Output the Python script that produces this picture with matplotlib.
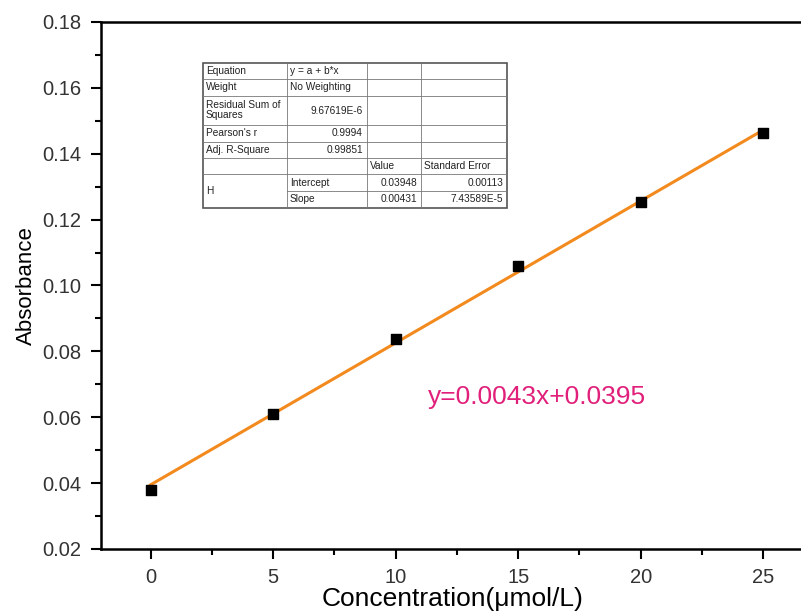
import numpy as np
import matplotlib.pyplot as plt
from matplotlib.ticker import MultipleLocator, FormatStrFormatter

plt.rcParams['font.family'] = ['Liberation Sans', 'DejaVu Sans']

# standard curve data
conc = [0, 5, 10, 15, 20, 25]
absorb = [0.0379, 0.0610, 0.0838, 0.1060, 0.1252, 0.1462]

# linear fit results
intercept = 0.03948
slope = 0.00431

fit_rows = [
    ["Equation", "y = a + b*x", "", ""],
    ["Weight", "No Weighting", "", ""],
    ["Residual Sum of\nSquares", "9.67619E-6", "", ""],
    ["Pearson's r", "0.9994", "", ""],
    ["Adj. R-Square", "0.99851", "", ""],
    ["", "", "Value", "Standard Error"],
    ["H", "Intercept", "0.03948", "0.00113"],
    ["", "Slope", "0.00431", "7.43589E-5"],
]

fig = plt.figure(figsize=(8.01, 6.14), dpi=100)
ax = fig.add_axes([101 / 801, 1 - 549 / 614, 704 / 801, 527 / 614])

xfit = np.array([conc[0], conc[-1]])
ax.plot(xfit, intercept + slope * xfit, color='#F28A1E', lw=2.2, zorder=2)
ax.scatter(conc, absorb, marker='s', s=55, color='black', zorder=3)

ax.set_xlim(-2.02, 26.7)
ax.set_ylim(0.02, 0.18)
ax.xaxis.set_major_locator(MultipleLocator(5))
ax.xaxis.set_minor_locator(MultipleLocator(2.5))
ax.yaxis.set_major_locator(MultipleLocator(0.02))
ax.yaxis.set_minor_locator(MultipleLocator(0.01))
ax.yaxis.set_major_formatter(FormatStrFormatter('%.2f'))
ax.tick_params(which='major', direction='out', length=7, width=1.5,
               labelsize=14.5, labelcolor='#333333', pad=7)
ax.tick_params(which='minor', direction='out', length=4, width=1.5)
for s in ax.spines.values():
    s.set_linewidth(1.8)

ax.set_xlabel('Concentration(μmol/L)', fontsize=19, labelpad=0)
ax.set_ylabel('Absorbance', fontsize=16, labelpad=4)

ax.text(11.3, 0.0661, 'y=0.0043x+0.0395', color='#E0207A', fontsize=19, va='center')

# fit report table, drawn in pixel-based figure coordinates
col_x = [203, 287, 367, 421, 507]
row_y = [63, 79, 96, 125, 142, 158, 174, 191, 208]
W, H = 801, 614

def fx(px):
    return px / W

def fy(py):
    return 1 - py / H

lc = '#777777'
fig.patches.append(plt.Rectangle((fx(col_x[0]), fy(row_y[-1])),
                                 fx(col_x[-1]) - fx(col_x[0]), fy(row_y[0]) - fy(row_y[-1]),
                                 transform=fig.transFigure, facecolor='white',
                                 edgecolor='#555555', lw=1.2, zorder=5))
for i, yy in enumerate(row_y[1:-1], start=1):
    x0 = col_x[1] if i == 7 else col_x[0]
    fig.add_artist(plt.Line2D([fx(x0), fx(col_x[-1])], [fy(yy), fy(yy)],
                              transform=fig.transFigure, color=lc, lw=0.6, zorder=6))
for xx in col_x[1:-1]:
    fig.add_artist(plt.Line2D([fx(xx), fx(xx)], [fy(row_y[0]), fy(row_y[-1])],
                              transform=fig.transFigure, color=lc, lw=0.6, zorder=6))

fs = 7.3
for r, row in enumerate(fit_rows):
    ymid = (row_y[r] + row_y[r + 1]) / 2
    for c, val in enumerate(row):
        if not val:
            continue
        if r == 6 and c == 0:
            ymid_h = (row_y[6] + row_y[8]) / 2
            fig.text(fx(col_x[0] + 3), fy(ymid_h), val, fontsize=fs,
                     va='center', ha='left', zorder=7, color='#222222')
            continue
        right = (c == 1 and r in (2, 3, 4)) or (c >= 2 and r >= 6)
        if right:
            fig.text(fx(col_x[c + 1] - 4), fy(ymid), val, fontsize=fs,
                     va='center', ha='right', zorder=7, color='#222222')
        else:
            fig.text(fx(col_x[c] + 3), fy(ymid), val, fontsize=fs,
                     va='center', ha='left', zorder=7, color='#222222',
                     linespacing=1.0)

fig.savefig('out.png', dpi=100)
